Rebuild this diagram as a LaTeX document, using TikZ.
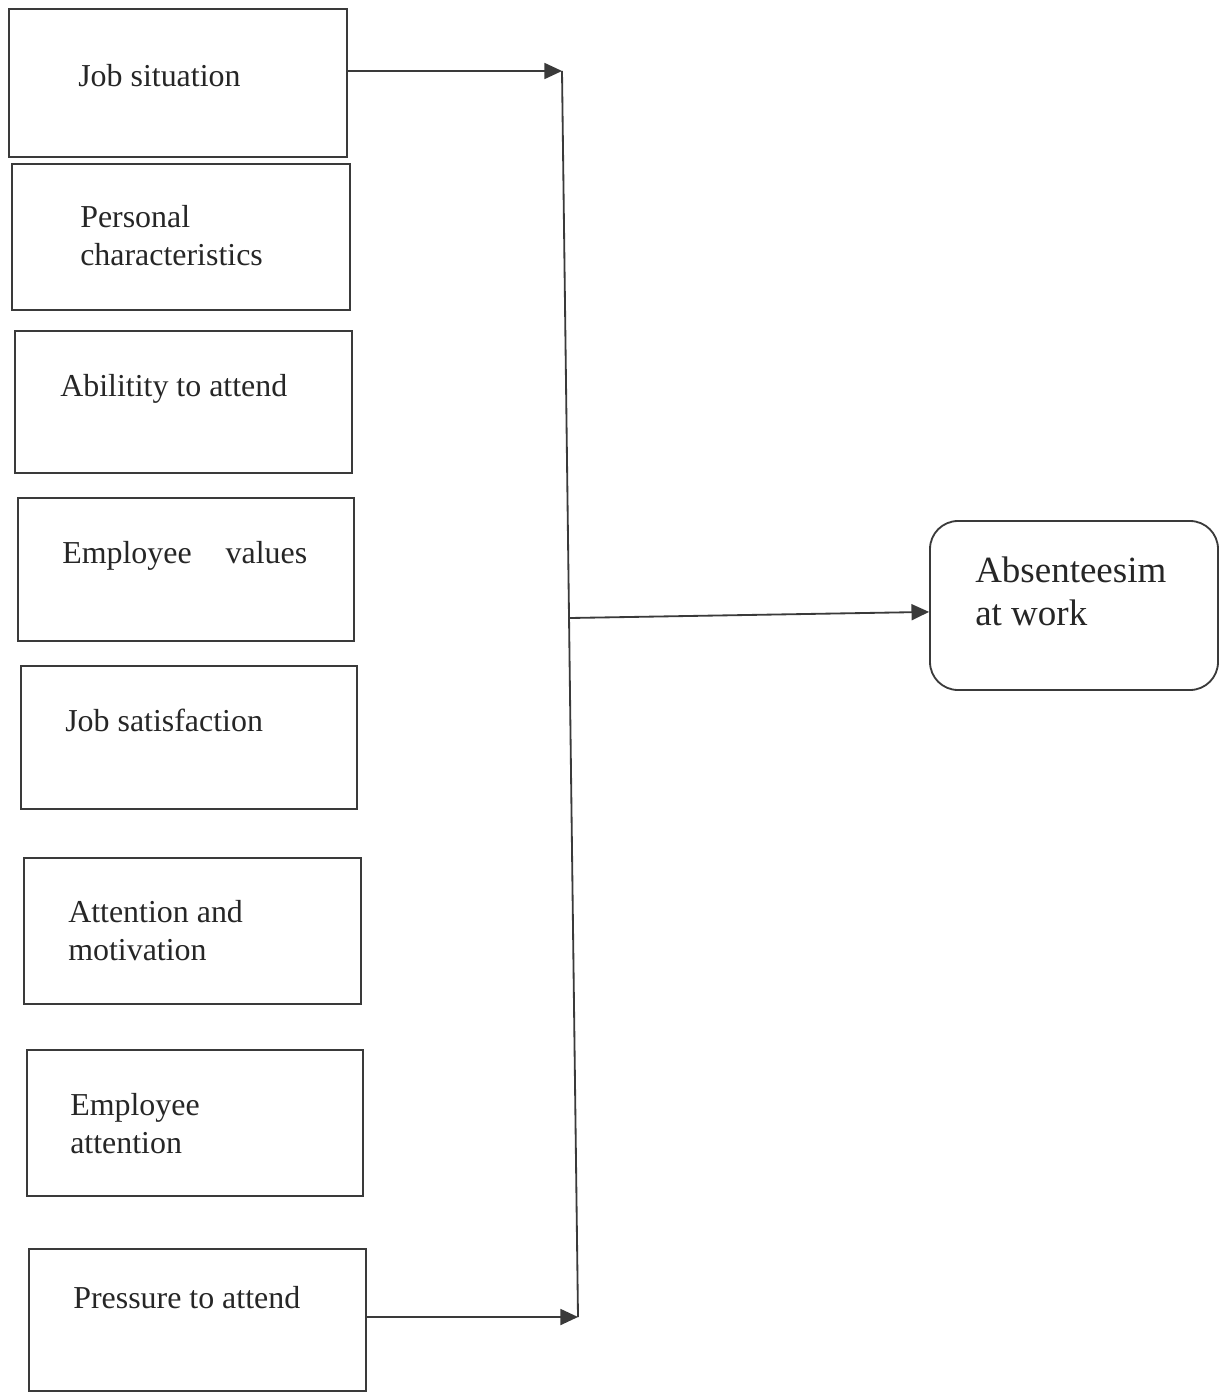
\documentclass[tikz,border=0pt]{standalone}
\usepackage{fontspec}
\setmainfont{Liberation Serif}
\usetikzlibrary{arrows.meta,fit}
\definecolor{linegray}{HTML}{3A3A3A}
\definecolor{inkgray}{HTML}{262626}
\tikzset{
  factor/.style={draw=linegray,line width=1.3pt,inner sep=0pt},
  outbox/.style={draw=linegray,line width=1.3pt,inner sep=0pt,rounded corners=0.7cm},
  ftext/.style={font=\fontsize{22.7}{26.5}\selectfont,text=inkgray,anchor=base west,inner sep=0pt,align=left},
  otext/.style={font=\fontsize{26.3}{30}\selectfont,text=inkgray,anchor=base west,inner sep=0pt,align=left},
  ar/.style={-{Triangle[length=4.4mm,width=4mm]},line width=1.3pt,linegray}
}
\begin{document}
\begin{tikzpicture}[x=0.025cm,y=-0.025cm]
\useasboundingbox (0,0) rectangle (1220,1393);
% factor boxes
\node[factor,fit={(9,9) (347,157)}] (js) {};
\node[factor,fit={(12,164) (350,310)}] (pc) {};
\node[factor,fit={(15,331) (352,473)}] (ab) {};
\node[factor,fit={(18,498) (354,641)}] (ev) {};
\node[factor,fit={(21,666) (357,809)}] (sat) {};
\node[factor,fit={(24,858) (361,1004)}] (mot) {};
\node[factor,fit={(27,1050) (363,1196)}] (ea) {};
\node[factor,fit={(29,1249) (366,1391)}] (pa) {};
% labels (base = last line)
\node[ftext] (jsl) at (78,87) {Job situation};
\node[ftext] (pcl) at (80,265) {Personal\\characteristics};
\node[ftext] (abl) at (60,396) {Abilitity to attend};
\node[ftext] (evl) at (62,563) {Employee\hspace{0.85cm}values};
\node[ftext] (satl) at (65,731) {Job satisfaction};
\node[ftext] (motl) at (68,960) {Attention and\\motivation};
\node[ftext] (eal) at (70,1153) {Employee\\attention};
\node[ftext] (pal) at (73,1308) {Pressure to attend};
% outcome
\node[outbox,fit={(930,521) (1218,690)}] (abs) {};
\node[otext] (absl) at (975,625) {Absenteesim\\at work};
% connectors
\coordinate (top) at (562,71);
\coordinate (bot) at (578,1317);
\coordinate (mid) at (570,618);
\draw[ar] (js.east |- top) -- (top);
\draw[linegray,line width=1.3pt] (top) -- (bot);
\draw[ar] (pa.east |- bot) -- (bot);
\draw[ar] (mid) -- ([yshift=-0.16cm]abs.west);
\end{tikzpicture}
\end{document}
